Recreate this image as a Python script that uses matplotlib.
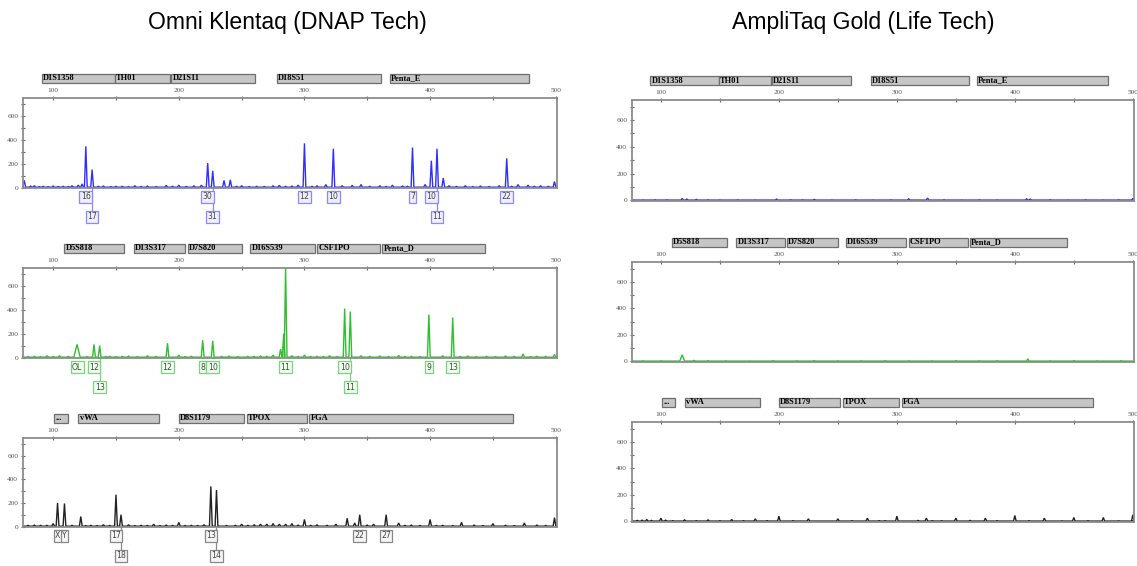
import matplotlib
matplotlib.use("Agg")
import matplotlib.pyplot as plt
from matplotlib.patches import Rectangle

# ---- datos ----
titulos = ["Omni Klentaq (DNAP Tech)", "AmpliTaq Gold (Life Tech)"]

# marcadores (nombre, inicio, fin) en pb
loci_azul = [("D1S1358", 91, 149), ("TH01", 149, 193), ("D21S11", 194, 261),
             ("D18S51", 278, 361), ("Penta_E", 368, 479)]
loci_verde = [("D5S818", 109, 156), ("D13S317", 164, 205), ("D7S820", 207, 250),
              ("D16S539", 257, 308), ("CSF1PO", 310, 360), ("Penta_D", 362, 444)]
loci_negro = [("...", 101, 112), ("vWA", 120, 184), ("D8S1179", 200, 252),
              ("TPOX", 254, 302), ("FGA", 304, 466)]

# picos (posicion pb, altura RFU) - Omni Klentaq
picos_azul_omni = [(77, 60), (126, 345), (131, 150), (223, 205), (227, 140), (236, 60),
                   (241, 65), (300, 370), (323, 325), (386, 335), (401, 225), (405.5, 325),
                   (410.5, 80), (461, 245), (499, 50)]
ruido_azul_omni = [(82, 12), (85, 15), (89, 8), (92, 10), (96, 8), (100, 12), (104, 9), (108, 10),
                   (112, 8), (115, 15), (120, 20), (123, 30), (136, 10), (140, 12), (146, 8),
                   (150, 10), (155, 10), (160, 8), (165, 15), (170, 9), (175, 12), (182, 8),
                   (190, 18), (195, 10), (200, 20), (206, 9), (212, 15), (218, 20), (246, 10),
                   (250, 15), (256, 8), (262, 10), (268, 9), (275, 15), (280, 18), (285, 10),
                   (290, 12), (295, 20), (306, 10), (310, 15), (317, 25), (330, 15), (338, 18),
                   (345, 25), (352, 10), (360, 15), (365, 9), (370, 20), (378, 12), (382, 10),
                   (396, 25), (415, 15), (421, 9), (428, 15), (434, 8), (440, 12), (447, 9),
                   (455, 15), (465, 10), (470, 25), (478, 20), (483, 10), (488, 15), (494, 10)]
picos_verde_omni = [(119, 110), (132.5, 110), (137, 100), (191, 120), (219, 145), (227, 140),
                    (281, 70), (283.5, 200), (285, 760), (332, 410), (336.5, 385), (399, 360),
                    (418, 335), (474, 30), (499, 25)]
ruido_verde_omni = [(80, 8), (85, 10), (90, 8), (95, 15), (100, 9), (105, 15), (112, 10),
                    (127, 8), (142, 9), (145, 10), (150, 8), (155, 9), (160, 12), (167, 8),
                    (175, 15), (182, 9), (200, 20), (205, 8), (210, 10), (234, 9), (240, 12),
                    (247, 8), (255, 10), (260, 9), (265, 12), (270, 10), (275, 20), (290, 15),
                    (295, 9), (300, 20), (305, 9), (310, 10), (315, 8), (320, 15), (326, 9),
                    (345, 15), (352, 9), (360, 12), (367, 8), (375, 18), (380, 9), (385, 10),
                    (392, 8), (410, 15), (424, 9), (430, 12), (437, 8), (445, 10), (452, 8),
                    (460, 12), (467, 9), (480, 8), (485, 10), (492, 9)]
picos_negro_omni = [(103.5, 200), (109, 195), (122, 85), (150, 270), (154, 100), (200, 35),
                    (225.5, 340), (230, 310), (300, 60), (334, 70), (344, 100), (365, 100),
                    (375, 30), (400, 60), (425, 35), (450, 25), (475, 30), (499, 75)]
ruido_negro_omni = [(80, 10), (85, 12), (90, 10), (95, 10), (100, 25), (115, 10), (126, 8),
                    (130, 10), (135, 8), (140, 15), (145, 9), (160, 15), (165, 8), (170, 10),
                    (175, 9), (180, 20), (185, 8), (190, 12), (195, 9), (205, 9), (210, 10),
                    (215, 8), (220, 15), (238, 9), (245, 10), (250, 20), (255, 10), (260, 15),
                    (265, 20), (270, 20), (275, 25), (280, 20), (285, 20), (290, 25), (295, 12),
                    (305, 10), (310, 15), (318, 10), (325, 20), (340, 30), (350, 12), (355, 20),
                    (380, 10), (385, 12), (392, 9), (405, 9), (410, 10), (418, 8), (435, 12),
                    (442, 8), (460, 10), (467, 8), (485, 12), (492, 9)]

# alelos (texto, posicion) fila 1 y fila 2
alelos_azul_1 = [("16", 126), ("30", 223), ("12", 300), ("10", 323), ("7", 386), ("10", 401), ("22", 461)]
alelos_azul_2 = [("17", 131), ("31", 227), ("11", 405.5)]
alelos_verde_1 = [("OL", 119), ("12", 132.5), ("12", 191), ("8", 219), ("10", 227), ("11", 285),
                  ("10", 332), ("9", 399), ("13", 418)]
alelos_verde_2 = [("13", 137), ("11", 336.5)]
alelos_negro_1 = [("X", 103.5), ("Y", 109), ("17", 150), ("13", 225.5), ("22", 344), ("27", 365)]
alelos_negro_2 = [("18", 154), ("14", 230)]

# AmpliTaq Gold
picos_azul_gold = [(118, 15), (122, 10), (130, 8), (198, 10), (230, 8), (310, 12), (326, 18),
                   (410, 12), (413, 10), (500, 15)]
ruido_azul_gold = [(85, 4), (95, 5), (105, 5), (140, 5), (150, 4), (165, 5), (180, 4), (210, 5),
                   (220, 5), (245, 4), (265, 5), (280, 4), (295, 5), (340, 5), (355, 4), (370, 5),
                   (385, 4), (430, 5), (445, 4), (460, 5), (475, 4), (488, 5)]
picos_verde_gold = [(118, 50), (411, 20)]
ruido_verde_gold = [(85, 5), (100, 5), (128, 8), (140, 6), (155, 5), (175, 4), (195, 6), (215, 5),
                    (230, 6), (250, 5), (270, 5), (290, 6), (310, 5), (330, 5), (350, 6), (370, 5),
                    (385, 6), (430, 5), (450, 6), (470, 5), (490, 6)]
picos_negro_gold = [(88, 15), (100, 25), (120, 12), (140, 12), (160, 15), (180, 20), (200, 40),
                    (225, 20), (250, 20), (275, 25), (300, 40), (325, 25), (350, 25), (375, 25),
                    (400, 45), (425, 25), (450, 30), (475, 30), (500, 50)]
ruido_negro_gold = [(80, 8), (84, 10), (92, 8), (104, 10), (110, 6), (130, 6), (150, 6), (170, 6),
                    (190, 6), (212, 6), (262, 6), (285, 6), (290, 6), (318, 8), (330, 6), (338, 6),
                    (362, 8), (385, 6), (412, 6), (440, 5), (462, 6), (488, 5)]

colores = {"azul": "#2f2fff", "verde": "#2fbf2f", "negro": "#222222"}
bordes = {"azul": "#8a8aff", "verde": "#7fd07f", "negro": "#888888"}
fondos = {"azul": "#efefff", "verde": "#efffef", "negro": "#f5f5f5"}

W, H = 1137, 566
fig = plt.figure(figsize=(W / 100, H / 100), dpi=100)
fig.patch.set_facecolor("white")

for i, t in enumerate(titulos):
    fig.text([0.253, 0.759][i], 1 - 22 / H, t, ha="center", va="center",
             fontsize=16.6, family=["Liberation Sans", "DejaVu Sans"])


def traza(picos, ruido, x0, x1, anchos):
    todos = sorted(picos + ruido)
    xs, ys = [x0], [3]
    for p, h in todos:
        w = anchos.get(p, 1.1)
        xs += [p - w, p, p + w]
        ys += [3, h, 3]
    xs.append(x1)
    ys.append(3)
    return xs, ys


def panel(rect, xmin, loci, picos, ruido, col, al1, al2, anchos):
    ax = fig.add_axes(rect)
    hpx = rect[3] * H
    xs, ys = traza(picos, ruido, xmin, 500, anchos)
    ax.plot(xs, ys, color=colores[col], lw=1.0, solid_joinstyle="miter")
    ax.set_xlim(xmin, 501)
    ax.set_ylim(-4, 750)
    for s in ax.spines.values():
        s.set_color("#8c8c8c")
        s.set_linewidth(1.3)
    ax.xaxis.tick_top()
    ax.set_xticks([100, 200, 300, 400, 500])
    ax.set_xticks([150, 250, 350, 450], minor=True)
    ax.set_yticks([0, 200, 400, 600])
    ax.set_yticks([100, 300, 500, 700], minor=True)
    ax.tick_params(which="both", direction="inout", length=3, width=0.8, color="#666666",
                   labelsize=5.3, labelcolor="#555555", pad=2)
    for lab in ax.get_xticklabels() + ax.get_yticklabels():
        lab.set_family("Liberation Serif")
    trans = ax.get_xaxis_transform()
    # barras de marcadores
    yb0, yb1 = 1 + 15 / hpx, 1 + 24 / hpx
    for nombre, a, b in loci:
        ax.add_patch(Rectangle((a, yb0), b - a, yb1 - yb0, transform=trans, clip_on=False,
                               facecolor="#c6c6c6", edgecolor="#6e6e6e", lw=0.9))
        ax.text(a + 1, (yb0 + yb1) / 2, nombre, transform=trans, fontsize=6,
                fontweight="bold", family="Liberation Serif", va="center", ha="left")
    # cajas de alelos
    caja = dict(boxstyle="square,pad=0.18", fc=fondos[col], ec=bordes[col], lw=0.9)
    for fila, y in ((al1, -9 / hpx), (al2, -29 / hpx)):
        for txt, p in fila:
            if fila is al2:
                ax.plot([p, p], [0, y], transform=trans, color=bordes[col], lw=0.9,
                        clip_on=False)
            ax.text(p, y, txt, transform=trans, fontsize=5.6, color="#444444",
                    ha="center", va="center", bbox=caja, family="DejaVu Sans")
    return ax


izq = [23 / W, 534 / W]
der = [632 / W, 502 / W]
panel([izq[0], 1 - 188 / H, izq[1], 90 / H], 76, loci_azul, picos_azul_omni, ruido_azul_omni,
      "azul", alelos_azul_1, alelos_azul_2, {})
panel([izq[0], 1 - 358 / H, izq[1], 90 / H], 76, loci_verde, picos_verde_omni, ruido_verde_omni,
      "verde", alelos_verde_1, alelos_verde_2, {119: 2.5})
panel([izq[0], 1 - 527 / H, izq[1], 89 / H], 76, loci_negro, picos_negro_omni, ruido_negro_omni,
      "negro", alelos_negro_1, alelos_negro_2, {})
panel([der[0], 1 - 201 / H, der[1], 101 / H], 75.5, loci_azul, picos_azul_gold, ruido_azul_gold,
      "azul", [], [], {})
panel([der[0], 1 - 362 / H, der[1], 100 / H], 75.5, loci_verde, picos_verde_gold, ruido_verde_gold,
      "verde", [], [], {118: 2.0})
panel([der[0], 1 - 522 / H, der[1], 100 / H], 75.5, loci_negro, picos_negro_gold, ruido_negro_gold,
      "negro", [], [], {})

fig.savefig("out.png", dpi=100)
